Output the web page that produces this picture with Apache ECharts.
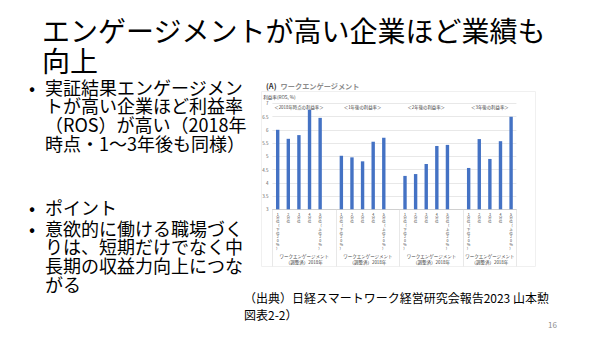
<!DOCTYPE html>
<html><head><meta charset="utf-8">
<script src="https://cdn.jsdelivr.net/npm/echarts@6/dist/echarts.min.js"></script>
<style>
html,body{margin:0;padding:0;background:#fff;}
#wrap{position:relative;width:600px;height:338px;overflow:hidden;font-family:"Noto Sans CJK JP","Noto Sans",sans-serif;color:#000;}
#chart{position:absolute;left:0;top:0;width:600px;height:338px;}
.t{position:absolute;white-space:nowrap;}
.b{font-size:18px;line-height:18.7px;}
</style></head>
<body><div id="wrap"><div id="chart"></div>
<div class="t" style="left:42px;top:15px;font-size:28px;line-height:30px;">エンゲージメントが高い企業ほど業績も<br>向上</div>
<div class="t b" style="left:29px;top:77.6px;">•</div>
<div class="t b" style="left:45px;top:77.6px;">実証結果エンゲージメン<br>トが高い企業ほど利益率<br>（ROS）が高い（2018年<br>時点・1〜3年後も同様）</div>
<div class="t b" style="left:29px;top:197.6px;">•</div>
<div class="t b" style="left:45px;top:197.6px;">ポイント</div>
<div class="t b" style="left:29px;top:218.6px;">•</div>
<div class="t b" style="left:45px;top:218.6px;">意欲的に働ける職場づく<br>りは、短期だけでなく中<br>長期の収益力向上につな<br>がる</div>
<div class="t" style="left:244px;top:288.5px;font-size:12px;line-height:17px;">（出典）日経スマートワーク経営研究会報告2023 山本勲<br>図表2-2）</div>
<div class="t" style="left:548px;top:320px;font-size:8px;line-height:10px;color:#8c8c8c;">16</div>
</div>
<script>
const quantileLabels = ['1分位（下位20%）','2分位','3分位','4分位','5分位（上位20%）'];
const periodHeaders = ['＜2018年時点の利益率＞','＜1年後の利益率＞','＜2年後の利益率＞','＜3年後の利益率＞'];
const groupAxisLabels = ['ワークエンゲージメント\n（調整済）2018年','ワークエンゲージメント\n（調整済）2018年','ワークエンゲージメント\n（調整済）2018年','ワークエンゲージメント\n（調整済）2018年'];
const ros2018 = [6.00, 5.66, 5.80, 6.76, 6.45];
const ros1y = [5.02, 4.96, 4.81, 5.55, 5.70];
const ros2y = [4.26, 4.33, 4.71, 5.39, 5.43];
const ros3y = [4.56, 5.65, 4.90, 5.57, 6.49];
const yMin = 3, yMax = 7, yStep = 0.5;
const yName = '利益率(ROS, %)';
const chartTitle = '(A)';
const chartSubtitle = 'ワークエンゲージメント';

const groups = [ros2018, ros1y, ros2y, ros3y];
const categories = [], values = [], bounds = [0], headerPos = [], groupPos = [];
groups.forEach((g, gi) => {
  const start = categories.length;
  g.forEach((v, i) => { categories.push(quantileLabels[i]); values.push(v); });
  headerPos.push(start + g.length / 2);
  if (gi < groups.length - 1) { categories.push(''); values.push('-'); }
  bounds.push(categories.length);
  groupPos.push((start + categories.length) / 2);
});
const nCat = categories.length;

const chart = echarts.init(document.getElementById('chart'), null, {renderer: 'svg'});
const font = '"Noto Sans CJK JP", sans-serif';
chart.setOption({
  animation: false,
  textStyle: {fontFamily: font},
  title: {
    text: '{a|' + chartTitle + '} {b|' + chartSubtitle + '}',
    left: 261, top: 72,
    textStyle: {rich: {a: {fontSize: 7.5, color: '#333333', fontWeight: 'bold', fontFamily: font}, b: {fontSize: 7.2, color: '#8c8c8c', fontFamily: font}}}
  },
  graphic: [{type: 'rect', shape: {x: 261.5, y: 91.5, width: 274, height: 175}, style: {fill: 'none', stroke: '#ececec', lineWidth: 0.8}, silent: true}],
  grid: {left: 272.4, top: 103.3, width: 244, height: 106, containLabel: false},
  xAxis: [
    {type: 'category', data: categories, gridIndex: 0, position: 'bottom',
     axisLine: {show: true, lineStyle: {color: '#bfbfbf', width: 0.6}},
     axisTick: {show: false},
     axisLabel: {interval: 0, fontSize: 3.6, lineHeight: 3.8, color: '#404040', margin: 3, verticalAlign: 'top',
       formatter: s => s.split('').join('\n')}},
    {type: 'value', min: 0, max: nCat, position: 'bottom', gridIndex: 0,
     axisLine: {show: false}, splitLine: {show: false},
     axisTick: {show: true, customValues: bounds, length: 57, lineStyle: {color: '#d9d9d9', width: 0.6}},
     axisLabel: {customValues: groupPos, margin: 44, fontSize: 4.5, lineHeight: 6, color: '#404040',
       formatter: v => groupAxisLabels[groupPos.indexOf(v)] || ''}},
    {type: 'value', min: 0, max: nCat, position: 'top', gridIndex: 0,
     axisLine: {show: false}, splitLine: {show: false}, axisTick: {show: false},
     axisLabel: {inside: true, customValues: headerPos, margin: 1, fontSize: 4.4, color: '#404040', verticalAlign: 'top',
       formatter: v => periodHeaders[headerPos.indexOf(v)] || ''}}
  ],
  yAxis: {type: 'value', min: yMin, max: yMax, interval: yStep,
    name: yName, nameLocation: 'end', nameGap: 4,
    nameTextStyle: {fontSize: 4.6, color: '#404040', align: 'center', padding: [0, 0, 0, 14]},
    axisLine: {show: false}, axisTick: {show: false},
    axisLabel: {fontSize: 4.5, color: '#595959', margin: 4},
    splitLine: {lineStyle: {color: '#d9d9d9', width: 0.6}}},
  series: [{type: 'bar', data: values, xAxisIndex: 0, yAxisIndex: 0, barWidth: 3.4,
    itemStyle: {color: '#4472C4'}}]
});
</script>
</body></html>
